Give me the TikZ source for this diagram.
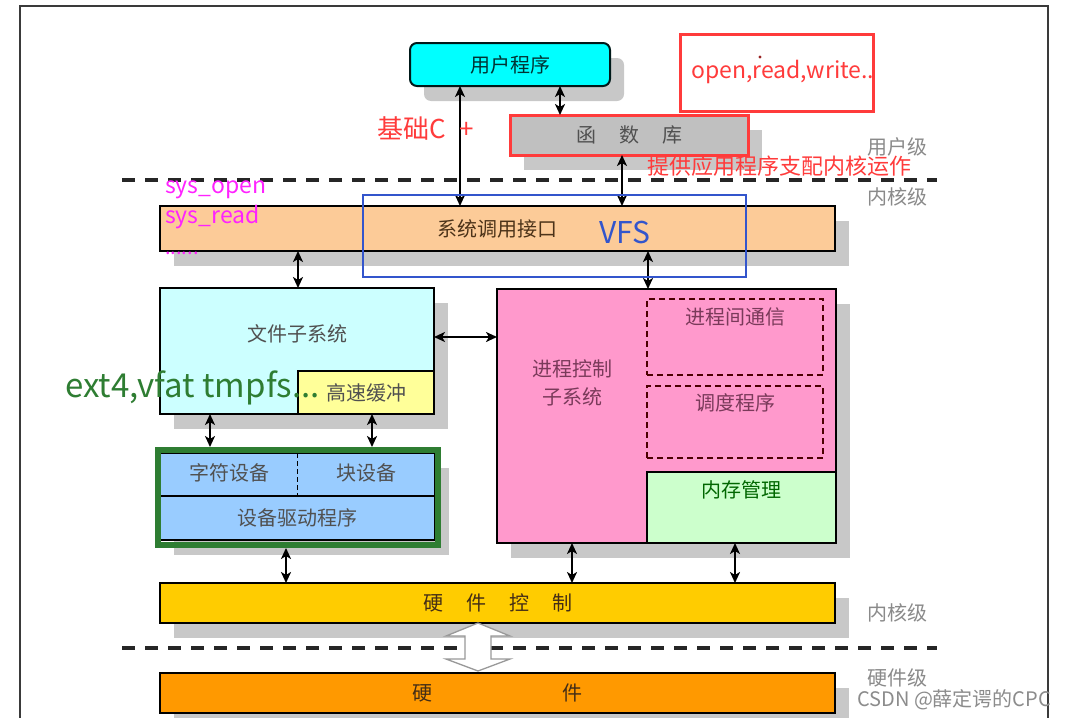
\documentclass[tikz,border=0pt]{standalone}
\usepackage{fontspec}
\newfontfamily\cjk{Noto Sans CJK SC}
\usetikzlibrary{arrows.meta,shadows,calc}
\definecolor{shadowgray}{HTML}{C8C8C8}
\definecolor{usercyan}{HTML}{00FFFF}
\definecolor{libgray}{HTML}{C0C0C0}
\definecolor{peach}{HTML}{FCCB98}
\definecolor{fscyan}{HTML}{CCFFFF}
\definecolor{cacheyellow}{HTML}{FFFF99}
\definecolor{devblue}{HTML}{99CCFF}
\definecolor{procpink}{HTML}{FF99CC}
\definecolor{memgreen}{HTML}{CCFFCC}
\definecolor{hwgold}{HTML}{FFCC00}
\definecolor{hworange}{HTML}{FF9900}
\definecolor{annored}{HTML}{FF3B3B}
\definecolor{annoblue}{HTML}{3355CC}
\definecolor{annogreen}{HTML}{2E7D32}
\definecolor{annomag}{HTML}{FF22FF}
\definecolor{lvlgray}{HTML}{8A8A8A}
\definecolor{boxtext}{HTML}{505050}
\definecolor{pinktext}{HTML}{7A3A5A}
\definecolor{framegray}{HTML}{3A3A3A}
\begin{document}
\begin{tikzpicture}[x=1pt,y=-1pt,
  kbox/.style={draw=black,line width=2pt,inner sep=0pt,outer sep=0pt,anchor=north west,
    font=\cjk\fontsize{20pt}{24pt}\selectfont,text=boxtext},
  shadowed/.style={drop shadow={shadow xshift=14pt,shadow yshift=-15pt,fill=shadowgray,opacity=1}},
  dbl/.style={{Stealth[length=11pt,width=10pt,inset=3pt]}-{Stealth[length=11pt,width=10pt,inset=3pt]},line width=2pt,draw=black},
  dashbox/.style={draw=black!70!red,dash pattern=on 6pt off 4pt,line width=1.8pt,inner sep=0pt,outer sep=0pt,anchor=north west},
  lbl/.style={font=\cjk\fontsize{20pt}{24pt}\selectfont,text=boxtext,inner sep=0pt},
  lvl/.style={font=\cjk\fontsize{20pt}{24pt}\selectfont,text=lvlgray,inner sep=0pt},
  levelsep/.style={draw=black!85,line width=3.5pt,dash pattern=on 13pt off 10pt},
  anno/.style={inner sep=0pt,font=\cjk\fontsize{#1pt}{#1pt}\selectfont},
]
\useasboundingbox (0,0) rectangle (1069,718);
\fill[white] (0,0) rectangle (1069,718);

% outer frame
\draw[framegray,line width=1.5pt] (20,718) -- (20,6) -- (1048,6) -- (1048,718);

% level separators
\draw[levelsep] (122,180) -- (937,180);
\draw[levelsep] (122,648) -- (937,648);

% boxes
\node[kbox,shadowed,fill=usercyan,rounded corners=7pt,draw=black!80!teal,text=black!60!teal,minimum width=200pt,minimum height=43pt] (user) at (410,43) {用户程序};
\node[kbox,shadowed,fill=libgray,draw=annored,line width=3pt,minimum width=238pt,minimum height=40pt] (lib) at (510,115) {函\hspace{23pt}数\hspace{23pt}库};
\node[kbox,shadowed,fill=peach,text=black!60!brown,minimum width=675pt,minimum height=45pt] (sys) at (160,206) {系统调用接口};
\node[kbox,shadowed,fill=fscyan,minimum width=274pt,minimum height=126pt] (fs) at (160,288) {};
\node[kbox,fill=cacheyellow,minimum width=136pt,minimum height=43pt] (cache) at (298,371) {高速缓冲};
\node[kbox,shadowed,fill=devblue,minimum width=275pt,minimum height=43pt] (dev1) at (160,453) {};
\node[kbox,shadowed,fill=devblue,minimum width=275pt,minimum height=44pt] (dev2) at (160,496) {设备驱动程序};
\node[kbox,shadowed,fill=procpink,minimum width=339pt,minimum height=254pt] (proc) at (497,289) {};
\node[dashbox,minimum width=176pt,minimum height=76pt] (ipc) at (647,299) {};
\node[dashbox,minimum width=176pt,minimum height=72pt] (sched) at (647,386) {};
\node[kbox,fill=memgreen,minimum width=189pt,minimum height=71pt] (mem) at (647,472) {};
\node[kbox,shadowed,fill=hwgold,text=black!65!brown,minimum width=675pt,minimum height=40pt] (hwctl) at (160,583) {硬\hspace{23pt}件\hspace{23pt}控\hspace{23pt}制};
\node[kbox,shadowed,fill=hworange,text=black!65!brown,minimum width=675pt,minimum height=40pt] (hw) at (160,673) {硬\hspace{130pt}件};

% inner labels
\node[lbl] (fslbl) at (297,334) {文件子系统};
\draw[black,line width=1.5pt,dash pattern=on 5pt off 3pt] (dev1.north) -- (dev1.south);
\node[lbl] (chardev) at (229,473) {字符设备};
\node[lbl] (blkdev) at (366,473) {块设备};
\node[lbl,text=pinktext,align=center,font=\cjk\fontsize{20pt}{28pt}\selectfont] (proclbl) at (572,383) {进程控制\\子系统};
\node[lbl,text=pinktext] (ipclbl) at (735,317) {进程间通信};
\node[lbl,text=pinktext] (schedlbl) at (735,403) {调度程序};
\node[lbl,text=black!60!green] (memlbl) at (741,490) {内存管理};

% level labels
\node[lvl] (lu) at (897,147) {用户级};
\node[lvl] (lk1) at (897,197) {内核级};
\node[lvl] (lk2) at (897,613) {内核级};
\node[lvl] (lh) at (897,678) {硬件级};

% green annotation frame
\draw[annogreen,line width=6pt] (158,450) rectangle (438,545);

% connectors
\coordinate (a1) at (460,0);
\coordinate (a2) at (560,0);
\coordinate (a3) at (622,0);
\coordinate (a4) at (298,0);
\coordinate (a5) at (648,0);
\coordinate (a6) at (0,337);
\coordinate (a7) at (210,0);
\coordinate (a8) at (372,0);
\coordinate (a9) at (286,0);
\coordinate (a10) at (572,0);
\coordinate (a11) at (735,0);
\draw[dbl] (user.south -| a1) -- (sys.north -| a1);
\draw[dbl] (user.south -| a2) -- (lib.north -| a2);
\draw[dbl] (lib.south -| a3) -- (sys.north -| a3);
\draw[dbl] (sys.south -| a4) -- (fs.north -| a4);
\draw[dbl] (sys.south -| a5) -- (proc.north -| a5);
\draw[dbl] (fs.east |- a6) -- (proc.west |- a6);
\draw[dbl,shorten >=6pt] (fs.south -| a7) -- (dev1.north -| a7);
\draw[dbl,shorten >=6pt] (cache.south -| a8) -- (dev1.north -| a8);
\draw[dbl,shorten <=8pt] (dev2.south -| a9) -- (hwctl.north -| a9);
\draw[dbl] (proc.south -| a10) -- (hwctl.north -| a10);
\draw[dbl] (mem.south -| a11) -- (hwctl.north -| a11);

% hollow double arrow between hardware control and hardware
\coordinate (ha) at (478,0);
\draw[draw=black!40,fill=white,line width=1.3pt] (hwctl.south -| ha) -- ++(32,13) -- ++(-19,0) -- ++(0,23) -- ++(19,0) -- ++(-32,12) -- ++(-32,-12) -- ++(19,0) -- ++(0,-23) -- ++(-19,0) -- cycle;

% annotations
\node[draw=annored,line width=3pt,anchor=north west,minimum width=193pt,minimum height=77pt,inner sep=0pt] (owbox) at (679,33) {};
\node[anno=23,text=annored,anchor=base west] (owtxt) at (691,78) {open,read,write..};
\fill[annored!60!black] (760,57) circle (1.6pt);
\node[anno=26,text=annored,anchor=west] (basec) at (377,128) {基础C\hspace{14pt}+};
\node[anno=22,text=annored,anchor=west] (provide) at (647,166) {提供应用程序支配内核运作};
\node[anno=23,text=annomag,anchor=base west] (sysopen) at (165,193) {sys\_open};
\node[anno=23,text=annomag,anchor=base west] (sysread) at (165,223) {sys\_read};
\node[anno=20,text=annomag,anchor=base west] (sysdots) at (165,254) {......};
\draw[annoblue,line width=2.5pt] (363,195) rectangle (746,277);
\node[anno=30,text=annoblue,anchor=base west] (vfs) at (599,243) {VFS};
\node[anno=33,text=annogreen,anchor=base west] (ext) at (65,397) {ext4,vfat tmpfs...};
\node[anno=20,text=black!45,anchor=west] (wm) at (857,700) {CSDN @薛定谔的CPC};
\end{tikzpicture}
\end{document}
